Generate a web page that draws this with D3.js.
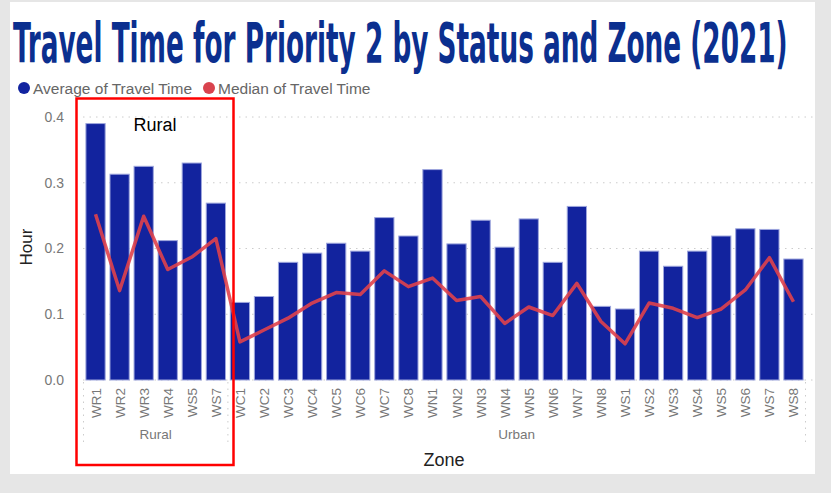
<!DOCTYPE html>
<meta charset="utf-8">
<style>
body { margin: 0; background: #e6e6e6; }
svg { display: block; font-family: "Liberation Sans", Arial, sans-serif; }
.grid line { stroke: #ccc; stroke-dasharray: 1.5 5; }
.tick text { fill: #777; }
</style>
<svg width="831" height="493"></svg>
<script src="https://cdn.jsdelivr.net/npm/d3@7"></script>
<script>

var zones = ["WR1","WR2","WR3","WR4","WS5","WS7",
  "WC1","WC2","WC3","WC4","WC5","WC6","WC7","WC8",
  "WN1","WN2","WN3","WN4","WN5","WN6","WN7","WN8",
  "WS1","WS2","WS3","WS4","WS5","WS6","WS7","WS8"];
var zoneStatus = ["Rural","Rural","Rural","Rural","Rural","Rural",
  "Urban","Urban","Urban","Urban","Urban","Urban","Urban","Urban",
  "Urban","Urban","Urban","Urban","Urban","Urban","Urban","Urban",
  "Urban","Urban","Urban","Urban","Urban","Urban","Urban","Urban"];
var average = [0.390,0.313,0.325,0.212,0.330,0.269,
  0.118,0.127,0.179,0.193,0.208,0.196,0.247,0.219,
  0.320,0.207,0.243,0.202,0.245,0.179,0.264,0.112,
  0.108,0.196,0.173,0.196,0.219,0.230,0.229,0.184];
var median = [0.252,0.136,0.249,0.168,0.187,0.215,
  0.058,0.076,0.094,0.117,0.133,0.130,0.166,0.142,
  0.155,0.121,0.127,0.086,0.111,0.098,0.147,0.089,
  0.055,0.117,0.109,0.095,0.108,0.137,0.186,0.119];
var yTicks = [0, 0.1, 0.2, 0.3, 0.4];

var svg = d3.select("svg");

svg.append("rect")
    .attr("x", 10).attr("y", 2)
    .attr("width", 805).attr("height", 472)
    .attr("fill", "#fff");

// title: squeeze horizontally to the width used in the picture
var title = svg.append("text")
    .style("font-family", "'DejaVu Sans Condensed', 'DejaVu Sans', sans-serif")
    .style("font-weight", "bold")
    .style("font-size", "56px")
    .attr("fill", "#0b2f8f")
    .text("Travel Time for Priority 2 by Status and Zone (2021)");
var tw = title.node().getComputedTextLength();
title.attr("transform", "translate(13,62) scale(" + (775 / tw) + ",1)");

// legend
var legend = [["Average of Travel Time", "#1224a0", 24], ["Median of Travel Time", "#d9434e", 209]];
legend.forEach(function(l) {
  svg.append("circle").attr("cx", l[2]).attr("cy", 88).attr("r", 6).attr("fill", l[1]);
  svg.append("text").attr("x", l[2] + 9).attr("y", 93.5)
      .style("font-size", "15.5px").attr("fill", "#666").text(l[0]);
});

var x = d3.scaleBand().domain(d3.range(zones.length)).range([83.5, 805.5]).paddingInner(0.2).paddingOuter(0.1);
var y = d3.scaleLinear().domain([0, 0.4]).range([380, 117]);

// grid
svg.append("g").attr("class", "grid")
  .selectAll("line").data(yTicks).enter().append("line")
    .attr("x1", 83).attr("x2", 813)
    .attr("y1", function(d) { return y(d); })
    .attr("y2", function(d) { return y(d); });

var yAxis = svg.append("g")
    .attr("transform", "translate(70,0)")
    .call(d3.axisLeft(y).tickValues(yTicks).tickFormat(d3.format(".1f")).tickSize(0).tickPadding(6));
yAxis.select(".domain").remove();
yAxis.selectAll("text").style("font-size", "14px").attr("fill", "#777");

svg.append("text")
    .attr("transform", "translate(32,247) rotate(-90)")
    .attr("text-anchor", "middle")
    .style("font-size", "17px").attr("fill", "#222")
    .text("Hour");

// bars
svg.append("g").selectAll("rect").data(average).enter().append("rect")
    .attr("x", function(d, i) { return x(i); })
    .attr("width", x.bandwidth())
    .attr("y", function(d) { return y(d); })
    .attr("height", function(d) { return y(0) - y(d); })
    .attr("fill", "#12239e")
    .attr("stroke", "#9ea6dd")
    .attr("stroke-width", 1);

// median line
var line = d3.line()
    .x(function(d, i) { return x(i) + x.bandwidth() / 2; })
    .y(function(d) { return y(d); });
svg.append("path")
    .datum(median)
    .attr("d", line)
    .attr("fill", "none")
    .attr("stroke", "#e0414b")
    .attr("stroke-opacity", 0.9)
    .attr("stroke-width", 3.5)
    .attr("stroke-linejoin", "round");

// x labels
svg.append("g").selectAll("text").data(zones).enter().append("text")
    .attr("transform", function(d, i) { return "translate(" + (x(i) + x.bandwidth() / 2 + 5) + ",388) rotate(-90)"; })
    .attr("text-anchor", "end")
    .style("font-size", "13.5px").attr("fill", "#777")
    .text(function(d) { return d; });

// status groups
var groups = d3.groups(d3.range(zones.length), function(i) { return zoneStatus[i]; });
var sepX = [83.5];
groups.forEach(function(g) {
  var i0 = g[1][0], i1 = g[1][g[1].length - 1];
  var left = x(i0) - x.step() * x.paddingInner() / 2;
  var right = x(i1) + x.bandwidth() + x.step() * x.paddingInner() / 2;
  sepX.push(right);
  svg.append("text")
      .attr("x", (left + right) / 2).attr("y", 439)
      .attr("text-anchor", "middle")
      .style("font-size", "13.5px").attr("fill", "#777")
      .text(g[0]);
});
svg.append("g").attr("class", "grid")
  .selectAll("line").data(sepX).enter().append("line")
    .attr("x1", function(d) { return d; }).attr("x2", function(d) { return d; })
    .attr("y1", 382).attr("y2", 445);

svg.append("text")
    .attr("x", 444).attr("y", 466)
    .attr("text-anchor", "middle")
    .style("font-size", "18px").attr("fill", "#222")
    .text("Zone");

// annotation
svg.append("rect")
    .attr("x", 76.5).attr("y", 98.5)
    .attr("width", 157).attr("height", 366.5)
    .attr("fill", "none")
    .attr("stroke", "#ff0000")
    .attr("stroke-width", 2.5);
svg.append("text")
    .attr("x", 155).attr("y", 131)
    .attr("text-anchor", "middle")
    .style("font-size", "18px").attr("fill", "#000")
    .text("Rural");

</script>
